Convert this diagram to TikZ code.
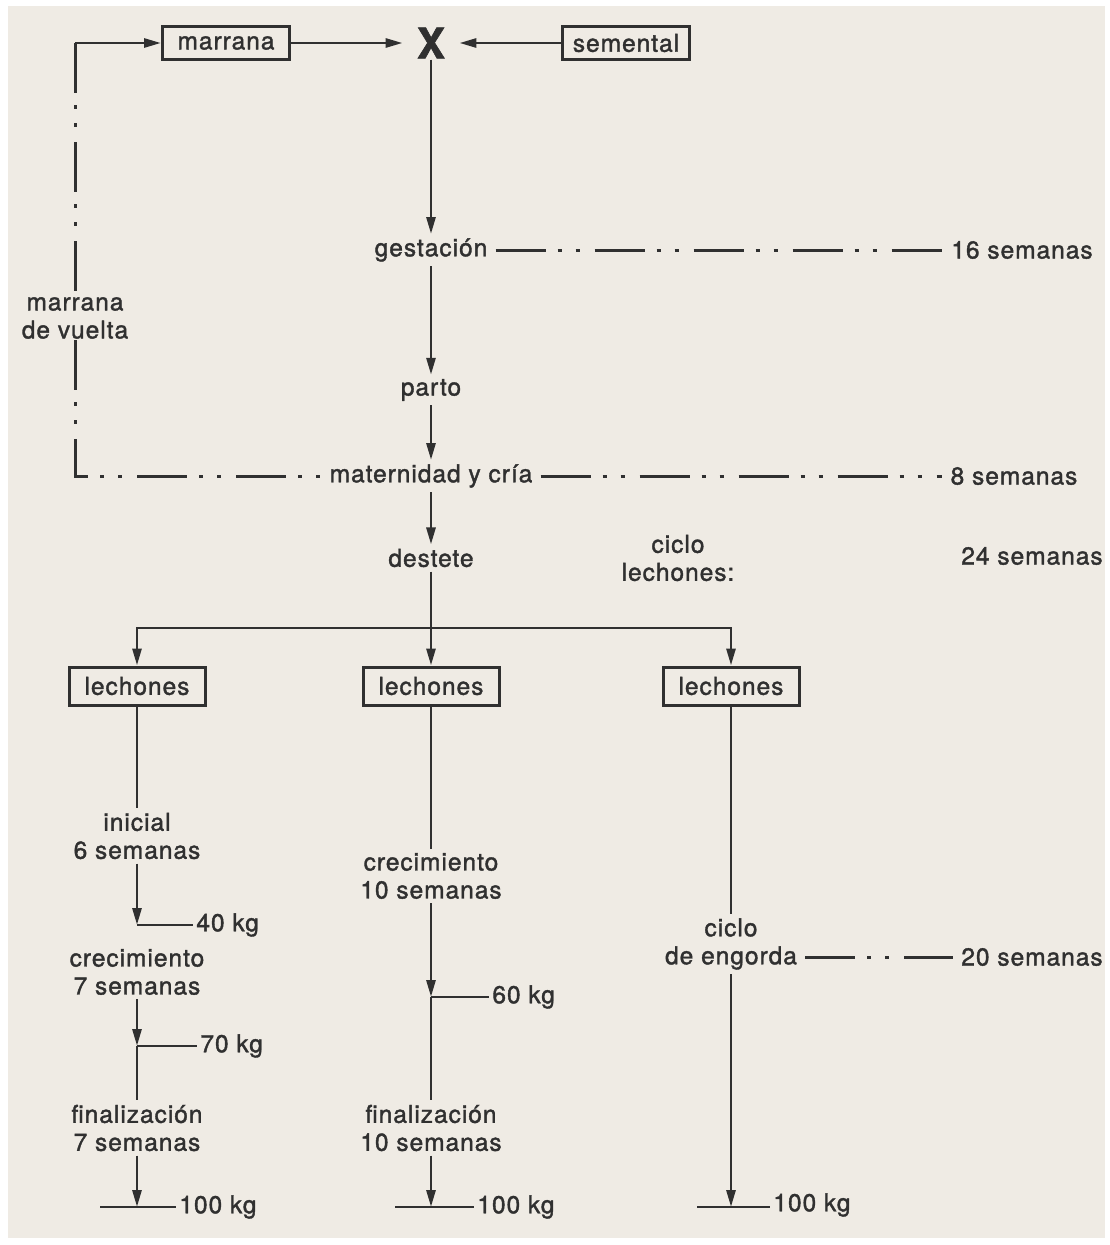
\documentclass[tikz,border=0pt]{standalone}
\usepackage{fontspec}
\setmainfont{TeX Gyre Heros}[LetterSpace=4,FakeBold=1.5]
\usetikzlibrary{arrows.meta,positioning}
\definecolor{papel}{HTML}{EFEBE4}
\definecolor{tinta}{HTML}{303030}

\tikzset{
  caja/.style={draw=tinta,line width=3pt,minimum width=127pt,minimum height=33pt,inner sep=2pt},
  etapa/.style={align=center,inner xsep=7pt,inner ysep=3pt},
  peso/.style={anchor=west,inner xsep=2pt,inner ysep=3pt},
  rayapunto/.style={line width=3pt,dash pattern=on 50pt off 12pt on 4pt off 14pt on 4pt off 15pt},
  flecha/.style={-{Triangle[length=17pt,width=9pt]},line width=2.8pt},
}

\begin{document}
\begin{tikzpicture}[x=1pt,y=-1pt,color=tinta,line width=2.8pt,font=\fontsize{24.5}{28}\selectfont]
\fill[white] (0,0) rectangle (1109,1245);
\fill[papel] (8,6) rectangle (1105,1238);
% cruce
\node[caja] (marr) at (226,43) {marrana};
\node[font=\fontsize{42}{42}\selectfont\bfseries,inner xsep=13pt,inner ysep=0pt] (cruz) at (431,43) {X};
\node[caja] (semen) at (626,43) {semental};
% ciclo de la marrana
\node[etapa] (gest) at (431,250) {gestación};
\node[etapa] (sem16) at (1022,250) {16 semanas};
\node[etapa] (parto) at (431,390) {parto};
\node[etapa] (mat) at (431,476) {maternidad y cría};
\node[etapa] (sem8) at (1014,476) {8 semanas};
\node[etapa] (dest) at (431,558) {destete};
\node[etapa] (ciclol) at (678,558) {ciclo\\lechones:};
\node[etapa] (sem24) at (1032,556) {24 semanas};
\coordinate (vueltaa) at (75,43);
\coordinate (vueltab) at (75,476);
\coordinate (reparto) at (431,628);
% lechones
\node[caja,minimum width=136pt,minimum height=38pt] (lecha) at (137,686) {lechones};
\node[caja,minimum width=136pt,minimum height=38pt] (lechb) at (431,686) {lechones};
\node[caja,minimum width=136pt,minimum height=38pt] (lechc) at (731,686) {lechones};
% columna izquierda
\node[etapa] (inic) at (137,836) {inicial\\6 semanas};
\coordinate (p40) at (137,925);
\node[peso] (kg40) at (193,925) {40 kg};
\node[etapa] (crec1) at (137,972) {crecimiento\\7 semanas};
\coordinate (p70) at (137,1046);
\node[peso] (kg70) at (197,1046) {70 kg};
\node[etapa] (fin1) at (137,1128) {finalización\\7 semanas};
\coordinate (p100a) at (137,1207);
\coordinate (b100a) at (100,1207);
\node[peso] (kg100a) at (176,1207) {100 kg};
% columna central
\node[etapa] (crec2) at (431,876) {crecimiento\\10 semanas};
\coordinate (p60) at (431,997);
\node[peso] (kg60) at (489,997) {60 kg};
\node[etapa] (fin2) at (431,1128) {finalización\\10 semanas};
\coordinate (p100b) at (431,1207);
\coordinate (b100b) at (395,1207);
\node[peso] (kg100b) at (474,1207) {100 kg};
% columna derecha
\node[etapa] (engor) at (731,944) {ciclo\\de engorda};
\node[etapa] (sem20) at (1032,957) {20 semanas};
\coordinate (p100c) at (731,1207);
\coordinate (b100c) at (697,1207);
\node[peso] (kg100c) at (770,1205) {100 kg};

\draw[flecha] (marr) -- (cruz);
\draw[flecha] (semen) -- (cruz);
\draw[flecha] (cruz) -- (gest);
\draw[flecha] (gest) -- (parto);
\draw[flecha] (parto) -- (mat);
\draw[flecha] (mat) -- (dest);
\draw[rayapunto] (gest) -- (sem16);
\draw[rayapunto] (mat) -- (sem8);
\draw[rayapunto] (vueltaa) -- (vueltab) -- (mat);
\draw[flecha] (vueltaa) -- (marr);
\node[etapa,fill=papel,inner ysep=1pt] (vuelta) at (75,318) {marrana\\de vuelta};

\draw (dest) -- (reparto);
\draw[flecha] (reparto) -- (lechb);
\draw[flecha] (reparto) -| (lecha);
\draw[flecha] (reparto) -| (lechc);

\draw (lecha) -- (inic);
\draw[flecha] (inic) -- (p40);
\draw (p40) -- (kg40);
\draw[flecha] (crec1) -- (p70);
\draw (p70) -- (kg70);
\draw (p70) -- (fin1);
\draw[flecha] (fin1) -- (p100a);
\draw (b100a) -- (kg100a);

\draw (lechb) -- (crec2);
\draw[flecha] (crec2) -- (p60);
\draw (p60) -- (kg60);
\draw (p60) -- (fin2);
\draw[flecha] (fin2) -- (p100b);
\draw (b100b) -- (kg100b);

\draw (lechc) -- (engor);
\draw[rayapunto] (engor.east |- sem20) -- (sem20);
\draw[flecha] (engor) -- (p100c);
\draw (b100c) -- (kg100c.west |- b100c);
\end{tikzpicture}
\end{document}
